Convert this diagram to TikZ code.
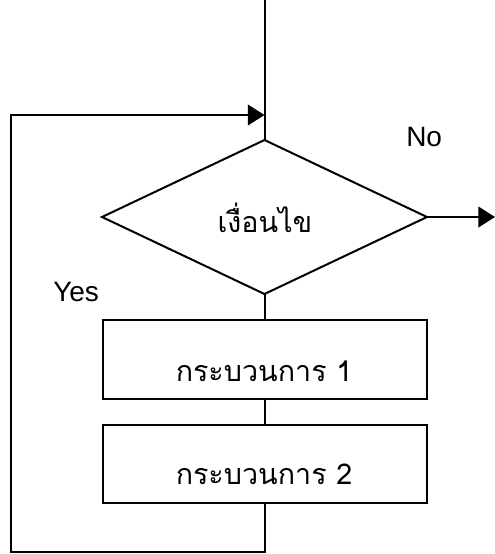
\documentclass[tikz,border=0pt]{standalone}
\usepackage{fontspec}
\setmainfont{Liberation Sans}
\newfontfamily\thaifont[Script=Thai]{Loma}
\usetikzlibrary{shapes.geometric,arrows.meta}
\tikzset{
  ln/.style={line width=1.5pt, black},
  arr/.style={ln, -{Triangle[length=12.5pt,width=15.5pt]}},
  shp/.style={draw=black, line width=1.5pt, inner sep=0pt, outer sep=0pt},
  decision/.style={shp, diamond, minimum width=243.75pt, minimum height=115.5pt},
  procbox/.style={shp, rectangle, minimum width=243pt, minimum height=59pt},
  thaitxt/.style={font=\thaifont\fontsize{21.5}{25}\selectfont, anchor=base, inner sep=0pt},
  lattxt/.style={font=\fontsize{21}{25}\selectfont, anchor=base west, inner sep=0pt}
}
\begin{document}
\begin{tikzpicture}[x=0.75pt, y=-0.75pt]
\useasboundingbox (0,0) rectangle (495,554);
\coordinate (top) at (264.5,0);
\node[decision] (cond) at (264.5,217) {};
\node[procbox] (p1) at (264.5,359.5) {};
\node[procbox] (p2) at (264.5,464) {};
\node[thaitxt] (condt) at (265,232) {เงื่อนไข};
\node[thaitxt] (p1t) at (264,381) {กระบวนการ 1};
\node[thaitxt] (p2t) at (264,484) {กระบวนการ 2};
\node[lattxt] (no) at (406,146) {No};
\node[lattxt] (yes) at (53,301) {Yes};
\coordinate (out) at (495,217);
\coordinate (bot) at (264.5,552);
\coordinate (botl) at (11,552);
\coordinate (topl) at (11,115);
\coordinate (join) at (264.5,115);
\draw[ln] (top) -- (cond.north);
\draw[ln] (cond.south) -- (p1.north);
\draw[ln] (p1.south) -- (p2.north);
\draw[arr] (cond.east) -- (out);
\draw[arr] (p2.south) -- (bot) -- (botl) -- (topl) -- (join);
\end{tikzpicture}
\end{document}
